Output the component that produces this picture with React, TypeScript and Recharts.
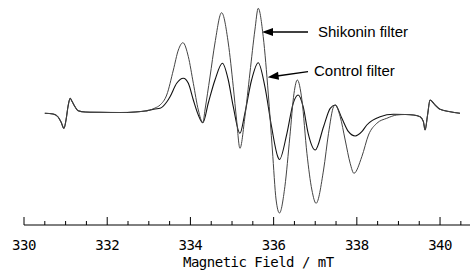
import { LineChart, Line, XAxis, YAxis } from "recharts"

// EPR spectra, field in mT, intensity in arbitrary units (baseline = 0)
const leftField = [330.5, 330.7, 330.82, 330.89, 330.96, 331.01, 331.06, 331.11, 331.15, 331.23, 331.3, 331.47, 331.83, 332.31, 332.67, 332.91, 333.03]
const leftValue = [-1.3, -2, -5, -10, -16.3, -8, 6, 13.7, 11, 5, 1.3, 0, -0.3, -0.5, 0, 1, 2]

const shikoninField = [333.15, 333.27, 333.43, 333.59, 333.71, 333.82, 333.95, 334.07, 334.19, 334.3, 334.35, 334.47, 334.59, 334.75, 334.91, 335.03, 335.11, 335.19, 335.31, 335.43, 335.55, 335.63, 335.75, 335.87, 335.97, 336.06, 336.14, 336.27, 336.39, 336.49, 336.57, 336.68, 336.8, 336.92, 337.02, 337.2, 337.32, 337.44, 337.48, 337.6, 337.72, 337.84, 337.93, 338.12, 338.28, 338.48, 338.72, 338.96]
const shikoninValue = [4, 7, 17, 42, 62, 69.3, 55.3, 28.7, 2, -10.7, 2, 35, 69, 99.3, 69, 25.3, -8, -36.3, -4.7, 39, 82, 103.7, 75.3, 19, -38, -88, -101, -74.7, -24.7, 18.7, 32, 12, -41.3, -78, -91.3, -58, -21.3, 5.3, 7, -4.7, -28, -51.3, -61.3, -44.7, -23, -11.3, -6.3, -3]

const controlField = [333.15, 333.27, 333.43, 333.51, 333.67, 333.83, 333.95, 334.07, 334.19, 334.3, 334.43, 334.59, 334.77, 334.91, 335.03, 335.19, 335.31, 335.47, 335.63, 335.79, 335.95, 336.1, 336.14, 336.32, 336.47, 336.59, 336.71, 336.83, 337.0, 337.2, 337.36, 337.48, 337.64, 337.8, 337.96, 338.12, 338.24, 338.56, 338.88]
const controlValue = [3, 3.7, 10, 15.3, 28.7, 33.7, 28.7, 12, -3, -10.7, 9, 32, 48.7, 32, 5.3, -21.3, -1, 32, 49.3, 25.3, -14.7, -44.7, -47.5, -21.3, 8.7, 17, 5.3, -21.3, -38, -14.7, 3.7, 7, -6.3, -19.7, -24, -19.7, -13, -4.7, -2.3]

const rightField = [339.16, 339.36, 339.52, 339.6, 339.64, 339.7, 339.76, 339.88, 340.0, 340.24, 340.48]
const rightValue = [-2.5, -3, -4.7, -9.7, -18, -3, 12, 7, 2.7, 0.3, -1.3]

const fieldTicks = [330, 330.5, 331, 331.5, 332, 332.5, 333, 333.5, 334, 334.5, 335, 335.5, 336, 336.5, 337, 337.5, 338, 338.5, 339, 339.5, 340, 340.5]

const toPoints = (fs: number[], vs: number[]) => fs.map((f, i) => ({ f, v: vs[i] }))

const shikoninData = [
  ...toPoints(leftField, leftValue),
  ...toPoints(shikoninField, shikoninValue),
  ...toPoints(rightField, rightValue),
]
const controlData = [
  ...toPoints(leftField, leftValue),
  ...toPoints(controlField, controlValue),
  ...toPoints(rightField, rightValue),
]

const mono = "'DejaVu Sans Mono', monospace"

function FieldTick({ x, y, payload }: any) {
  const major = payload.value % 2 === 0
  return (
    <g>
      <line x1={x} y1={y} x2={x} y2={y - (major ? 8 : 4)} stroke="#000" strokeWidth={1} />
      {major && (
        <text x={x} y={y + 25} textAnchor="middle" fontFamily={mono} fontSize={14} letterSpacing={-0.5} fill="#000">
          {payload.value}
        </text>
      )}
    </g>
  )
}

export default function App() {
  return (
    <div style={{ position: "absolute", left: 0, top: 0, width: 472, height: 272, background: "#fff" }}>
      <LineChart width={472} height={272} margin={{ top: 0, right: 2, bottom: 0, left: 24 }}>
        <XAxis
          type="number"
          dataKey="f"
          domain={[330, 340.72]}
          ticks={fieldTicks}
          interval={0}
          height={47}
          tickSize={0}
          tickMargin={0}
          tickLine={false}
          axisLine={{ stroke: "#000" }}
          tick={<FieldTick />}
          allowDataOverflow
        />
        <YAxis hide domain={[-113, 112]} />
        <Line data={controlData} dataKey="v" type="monotone" stroke="#111" strokeWidth={1.1} dot={false} isAnimationActive={false} />
        <Line data={shikoninData} dataKey="v" type="monotone" stroke="#444" strokeWidth={1} dot={false} isAnimationActive={false} />
      </LineChart>
      <svg width={472} height={272} style={{ position: "absolute", left: 0, top: 0, pointerEvents: "none" }}>
        <line x1={308} y1={32} x2={271} y2={32} stroke="#000" strokeWidth={1.3} />
        <polygon points="262,32 273,28 273,36" fill="#000" />
        <text x={318} y={37} fontFamily="'Liberation Sans', Arial, sans-serif" fontSize={15} fill="#000">Shikonin filter</text>
        <line x1={308} y1={71.7} x2={277} y2={76} stroke="#000" strokeWidth={1.3} />
        <polygon points="267.7,77.3 278,71.8 279,79.8" fill="#000" />
        <text x={314} y={76} fontFamily="'Liberation Sans', Arial, sans-serif" fontSize={15} fill="#000">Control filter</text>
        <text x={183} y={267} fontFamily={mono} fontSize={14} letterSpacing={-0.5} fill="#000">Magnetic Field / mT</text>
      </svg>
    </div>
  )
}
